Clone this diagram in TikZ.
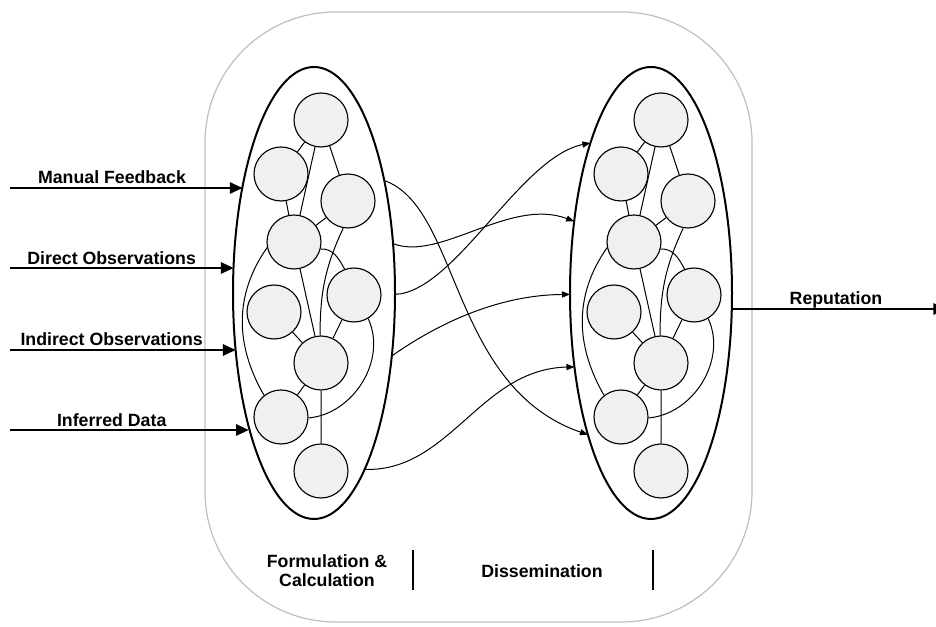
\documentclass[tikz,border=0pt]{standalone}
\usepackage{fontspec}
\setmainfont{Liberation Sans}
\usepackage{tikz}
\usetikzlibrary{arrows.meta,shapes.geometric}
\tikzset{
  inarrow/.style={-{Triangle[length=9.5pt,width=8.5pt]}, line width=1.4pt},
  linkarrow/.style={-{Triangle[length=6pt,width=4.6pt]}, line width=0.75pt},
  netnode/.style={circle, draw, line width=0.85pt, fill=gray!12, minimum size=40.5pt, inner sep=0pt},
  groupnode/.style={ellipse, draw, line width=1.5pt, minimum width=121.5pt, minimum height=339pt, inner sep=0pt, outer sep=0pt},
  netedge/.style={line width=0.75pt},
  textlabel/.style={font=\bfseries\fontsize{13.3}{14}\selectfont, inner sep=0pt, align=center},
  splitbar/.style={line width=1.5pt}
}

\begin{document}
\begin{tikzpicture}[x=0.75pt, y=0.75pt]
  \useasboundingbox (0,0) rectangle (936,627);
  % outer frame
  \draw[gray!50, line width=0.9pt, rounded corners=98pt] (205,5) rectangle (752,615);

  \node[groupnode] (fc) at (314,334) {};
  \node[groupnode] (ds) at (651,334) {};

  % the same small network inside each ellipse
  \foreach \s/\dx in {l/0, r/340} {
    \node[netnode] (\s1) at (321+\dx,507) {};
    \node[netnode] (\s2) at (281+\dx,453) {};
    \node[netnode] (\s3) at (348+\dx,426) {};
    \node[netnode] (\s4) at (294+\dx,385) {};
    \node[netnode] (\s5) at (354+\dx,332) {};
    \node[netnode] (\s6) at (274+\dx,315) {};
    \node[netnode] (\s7) at (321+\dx,264) {};
    \node[netnode] (\s8) at (281+\dx,210) {};
    \node[netnode] (\s9) at (321+\dx,156) {};
    \draw[netedge] (\s1) -- (\s2) (\s1) -- (\s3) (\s1) -- (\s4) (\s2) -- (\s4)
      (\s3) -- (\s4) (\s4) -- (\s7) (\s5) -- (\s7) (\s6) -- (\s7)
      (\s7) -- (\s8) (\s7) -- (\s9);
    \draw[netedge] (\s3.260) to[out=245,in=90] (\s7.92);
    \draw[netedge] (\s4.-15) to[out=5,in=118] (\s5.110);
    \draw[netedge] (\s4.192) to[out=235,in=120] (\s8.128);
    \draw[netedge] (\s5.-59) to[out=295,in=5] (\s8.-2);
  }

  % inputs
  \coordinate (mfsrc) at (10,439);
  \coordinate (dosrc) at (10,359);
  \coordinate (iosrc) at (10,277);
  \coordinate (idsrc) at (10,197);
  \draw[inarrow] (mfsrc) -- (mfsrc -| fc.124.3);
  \draw[inarrow] (dosrc) -- (dosrc -| fc.162.7);
  \draw[inarrow] (iosrc) -- (iosrc -| fc.216);
  \draw[inarrow] (idsrc) -- (idsrc -| fc.244.8);
  \node[textlabel, anchor=base] (mflabel) at (112,443.7) {Manual Feedback};
  \node[textlabel, anchor=base] (dolabel) at (111.7,362) {Direct Observations};
  \node[textlabel, anchor=base] (iolabel) at (111.7,281) {Indirect Observations};
  \node[textlabel, anchor=base] (idlabel) at (111.7,200) {Inferred Data};

  % links between the two ellipses
  \draw[linkarrow] (fc.58.2) .. controls (460,420) and (450,240) .. (ds.246.1);
  \draw[linkarrow] (fc.32.9) .. controls (440,365) and (510,430) .. (ds.137.7);
  \draw[linkarrow] (fc.-1.4) .. controls (455,335) and (520,470) .. (ds.112.5);
  \draw[linkarrow] (fc.-39.5) .. controls (440,305) and (500,332) .. (ds.181.4);
  \draw[linkarrow] (fc.-74.5) .. controls (450,155) and (480,258) .. (ds.224.9);

  % output
  \coordinate (repend) at (946,318);
  \draw[inarrow] (repend -| ds.348.8) -- (repend);
  \node[textlabel, anchor=base] (replabel) at (836,322) {Reputation};

  % phases
  \node[textlabel] (fclabel) at (327,56) {Formulation \&\\Calculation};
  \node[textlabel, anchor=base] (dslabel) at (542,49.7) {Dissemination};
  \draw[splitbar] (413,77) -- (413,37);
  \draw[splitbar] (653,77) -- (653,37);
\end{tikzpicture}
\end{document}
